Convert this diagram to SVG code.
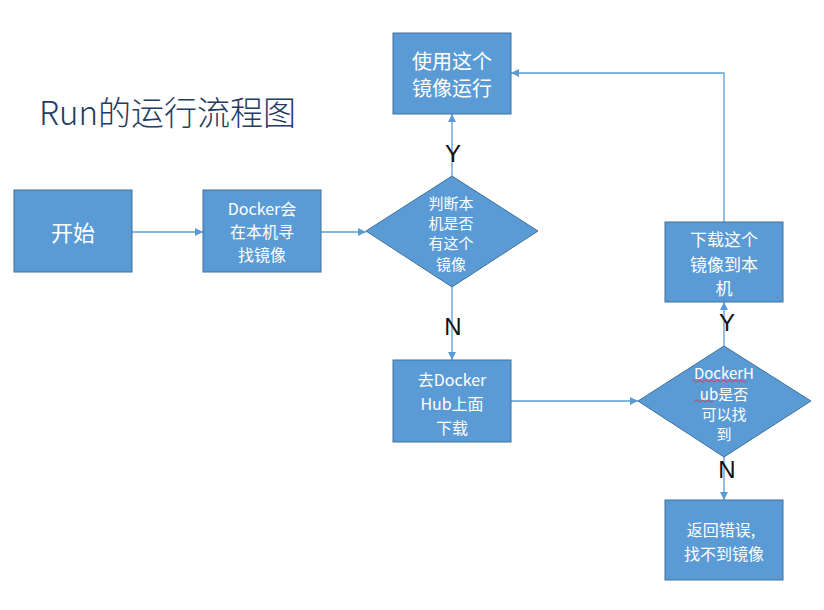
<svg xmlns="http://www.w3.org/2000/svg" width="824" height="610" viewBox="0 0 824 610">
<style>
.box{fill:#5B9BD5;stroke:#41719C;stroke-width:1}
.t{fill:#fff;font-family:"Noto Sans CJK SC","Noto Sans",sans-serif;text-anchor:middle;dominant-baseline:central}
.lbl{fill:#111;font-family:"Liberation Sans","Noto Sans CJK SC",sans-serif;font-size:24px;text-anchor:middle;dominant-baseline:central}
.ln{fill:none;stroke:#5B9BD5;stroke-width:1.3}
</style>
<defs>
<marker id="ah" viewBox="0 0 10 10" refX="10" refY="5" markerWidth="8" markerHeight="8" markerUnits="userSpaceOnUse" orient="auto">
<path d="M0,0 L10,5 L0,10 z" fill="#5B9BD5"/>
</marker>
</defs>
<rect width="824" height="610" fill="#fff"/>
<text x="39" y="111" font-family="Noto Sans CJK SC,sans-serif" font-size="33" fill="#243B63" dominant-baseline="central" font-weight="300">Run的运行流程图</text>

<g id="connectors">
<path class="ln" d="M132,232 H203" marker-end="url(#ah)"/>
<path class="ln" d="M321,232 H366" marker-end="url(#ah)"/>
<path class="ln" d="M452,176 V114" marker-end="url(#ah)"/>
<path class="ln" d="M452,287 V360" marker-end="url(#ah)"/>
<path class="ln" d="M511,401 H638" marker-end="url(#ah)"/>
<path class="ln" d="M724,346 V302" marker-end="url(#ah)"/>
<path class="ln" d="M724,457 V500" marker-end="url(#ah)"/>
<path class="ln" d="M724,222 V73 H511" marker-end="url(#ah)"/>
<text class="lbl" x="453" y="153">Y</text>
<text class="lbl" x="453" y="326">N</text>
<text class="lbl" x="727" y="322">Y</text>
<text class="lbl" x="727" y="469">N</text>
</g>

<g id="start">
<rect class="box" x="14" y="190" width="118" height="82"/>
<text class="t" x="73" y="231" font-size="22">开始</text>
</g>
<g id="docker-local">
<rect class="box" x="203" y="190" width="118" height="82"/>
<text class="t" x="262" y="208" font-size="16">Docker会</text>
<text class="t" x="262" y="231" font-size="16">在本机寻</text>
<text class="t" x="262" y="254" font-size="16">找镜像</text>
</g>
<g id="check-local">
<polygon class="box" points="452,176 538,231 452,287 366,231"/>
<text class="t" x="451" y="202" font-size="15">判断本</text>
<text class="t" x="451" y="222" font-size="15">机是否</text>
<text class="t" x="451" y="242" font-size="15">有这个</text>
<text class="t" x="451" y="263" font-size="15">镜像</text>
</g>
<g id="run">
<rect class="box" x="393" y="33" width="118" height="81"/>
<text class="t" x="452" y="60" font-size="20">使用这个</text>
<text class="t" x="452" y="87" font-size="20">镜像运行</text>
</g>
<g id="hub">
<rect class="box" x="393" y="360" width="118" height="82"/>
<text class="t" x="452" y="379" font-size="16">去Docker</text>
<text class="t" x="452" y="403" font-size="16">Hub上面</text>
<text class="t" x="452" y="427" font-size="16">下载</text>
</g>
<g id="check-hub">
<polygon class="box" points="724,346 811,401 724,457 638,401"/>
<text class="t" x="724" y="372" font-size="15">DockerH</text>
<text class="t" x="724" y="393" font-size="15">ub是否</text>
<text class="t" x="724" y="413" font-size="15">可以找</text>
<text class="t" x="724" y="433" font-size="15">到</text>
<path d="M692,381 q1.5,-2 3,0 t3,0 t3,0 t3,0 t3,0 t3,0 t3,0 t3,0 t3,0 t3,0 t3,0 t3,0 t3,0 t3,0 t3,0 t3,0 t3,0 t3,0 M695,401 q1.5,-2 3,0 t3,0 t3,0 t3,0 t3,0 t3,0" fill="none" stroke="#E03030" stroke-width="0.8"/>
</g>
<g id="download">
<rect class="box" x="665" y="222" width="118" height="80"/>
<text class="t" x="724" y="238" font-size="17">下载这个</text>
<text class="t" x="724" y="263" font-size="17">镜像到本</text>
<text class="t" x="724" y="287" font-size="17">机</text>
</g>
<g id="error">
<rect class="box" x="665" y="500" width="118" height="80"/>
<text class="t" x="721" y="529" font-size="16">返回错误,</text>
<text class="t" x="724" y="553" font-size="16">找不到镜像</text>
</g>
</svg>
